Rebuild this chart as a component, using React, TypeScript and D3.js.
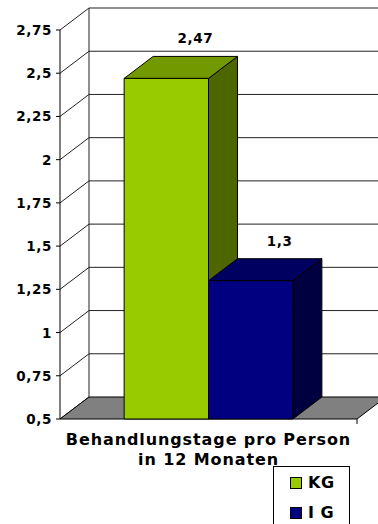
import * as d3 from "d3";

const WIDTH = 378;
const HEIGHT = 524;

// chart data
const categoryLines = ["Behandlungstage pro Person", "in 12 Monaten"];
const seriesNames = ["KG", "IG"];
const seriesValues = [2.47, 1.3];
const valueLabels = ["2,47", "1,3"];
const yTicks = [0.5, 0.75, 1, 1.25, 1.5, 1.75, 2, 2.25, 2.5, 2.75];

const FRONT = { "KG": "#99cc00", "IG": "#000080" };
const TOP = { "KG": "#739900", "IG": "#000060" };
const SIDE = { "KG": "#4d6600", "IG": "#000040" };

// plot frame (front plane) and depth offset
const X0 = 60;
const X1 = 357;
const DX = 29;
const DY = -22;
const FONT = "'DejaVu Sans', Verdana, sans-serif";

const fmt = (v: number) => d3.format("~g")(v).replace(".", ",");

export default function App() {
  const y = d3.scaleLinear().domain([0.5, 2.75]).range([419, 30]);
  const cat = d3.scaleBand().domain(["c"]).range([X0, X1]);
  const inner = d3
    .scaleBand()
    .domain(seriesNames)
    .range([0, cat.bandwidth()])
    .paddingOuter(0.76)
    .paddingInner(0);

  const yBase = y(0.5);
  const pts = (p: number[][]) => p.map((d) => d.join(",")).join(" ");

  return (
    <div style={{ position: "fixed", left: 0, top: 0 }}>
      <svg width={WIDTH} height={HEIGHT} style={{ display: "block" }}>
        <rect width={WIDTH} height={HEIGHT} fill="#fff" />
        {/* back wall and side wall gridlines */}
        <g stroke="#222" strokeWidth={1} fill="none">
          <line x1={X0 + DX} x2={X0 + DX} y1={y(2.75) + DY} y2={yBase + DY} />
          {yTicks.map((t) => (
            <g key={t}>
              <line x1={X0} y1={y(t)} x2={X0 + DX} y2={y(t) + DY} />
              {t > 0.5 && (
                <line x1={X0 + DX} y1={y(t) + DY} x2={X1 + DX} y2={y(t) + DY} />
              )}
            </g>
          ))}
        </g>
        {/* floor */}
        <polygon
          points={pts([
            [X0, yBase],
            [X1, yBase],
            [X1 + DX, yBase + DY],
            [X0 + DX, yBase + DY],
          ])}
          fill="#808080"
          stroke="#000"
          strokeWidth={1}
        />
        {/* front axis */}
        <g stroke="#000" strokeWidth={1}>
          <line x1={X0} x2={X0} y1={y(2.75)} y2={yBase} />
          {yTicks.map((t) => (
            <line key={t} x1={X0 - 4} x2={X0} y1={y(t)} y2={y(t)} />
          ))}
          <line x1={X1} x2={X1} y1={yBase} y2={yBase + 5} />
        </g>
        <g fontFamily={FONT} fontWeight="bold" fontSize={13.5} fill="#000" textAnchor="end" letterSpacing={0.6}>
          {yTicks.map((t) => (
            <text key={t} x={X0 - 8} y={y(t) + 5}>
              {fmt(t)}
            </text>
          ))}
        </g>
        {/* bars */}
        {seriesNames.map((s, i) => {
          const bx = X0 + (inner(s) as number);
          const bw = inner.bandwidth();
          const ty = y(seriesValues[i]);
          return (
            <g key={s} stroke="#000" strokeWidth={1} strokeLinejoin="round">
              <polygon
                points={pts([
                  [bx + bw, ty],
                  [bx + bw + DX, ty + DY],
                  [bx + bw + DX, yBase + DY],
                  [bx + bw, yBase],
                ])}
                fill={SIDE[s]}
              />
              <polygon
                points={pts([
                  [bx, ty],
                  [bx + bw, ty],
                  [bx + bw + DX, ty + DY],
                  [bx + DX, ty + DY],
                ])}
                fill={TOP[s]}
              />
              <rect x={bx} y={ty} width={bw} height={yBase - ty} fill={FRONT[s]} />
              <text
                x={bx + DX + bw / 2}
                y={ty + DY - 13}
                stroke="none"
                fill="#000"
                fontFamily={FONT}
                fontWeight="bold"
                fontSize={13.5}
                letterSpacing={0.6}
                textAnchor="middle"
              >
                {valueLabels[i]}
              </text>
            </g>
          );
        })}
        {/* category label */}
        <g fontFamily={FONT} fontWeight="bold" fontSize={16} fill="#000" textAnchor="middle" letterSpacing={0.9}>
          {categoryLines.map((l, i) => (
            <text key={l} x={(cat("c") as number) + cat.bandwidth() / 2} y={445 + i * 20}>
              {l}
            </text>
          ))}
        </g>
        {/* legend */}
        <rect x={273.5} y={466.5} width={76} height={70} fill="#fff" stroke="#000" strokeWidth={1} />
        {seriesNames.map((s, i) => (
          <g key={s} transform={`translate(290,${477 + i * 30})`}>
            <rect x={0.5} y={0.5} width={11} height={11} fill={FRONT[s]} stroke="#000" strokeWidth={1} />
            <text x={18} y={11} fontFamily={FONT} fontWeight="bold" fontSize={16} fill="#000" letterSpacing={0.5}>
              {s === "IG" ? "I G" : s}
            </text>
          </g>
        ))}
      </svg>
    </div>
  );
}
